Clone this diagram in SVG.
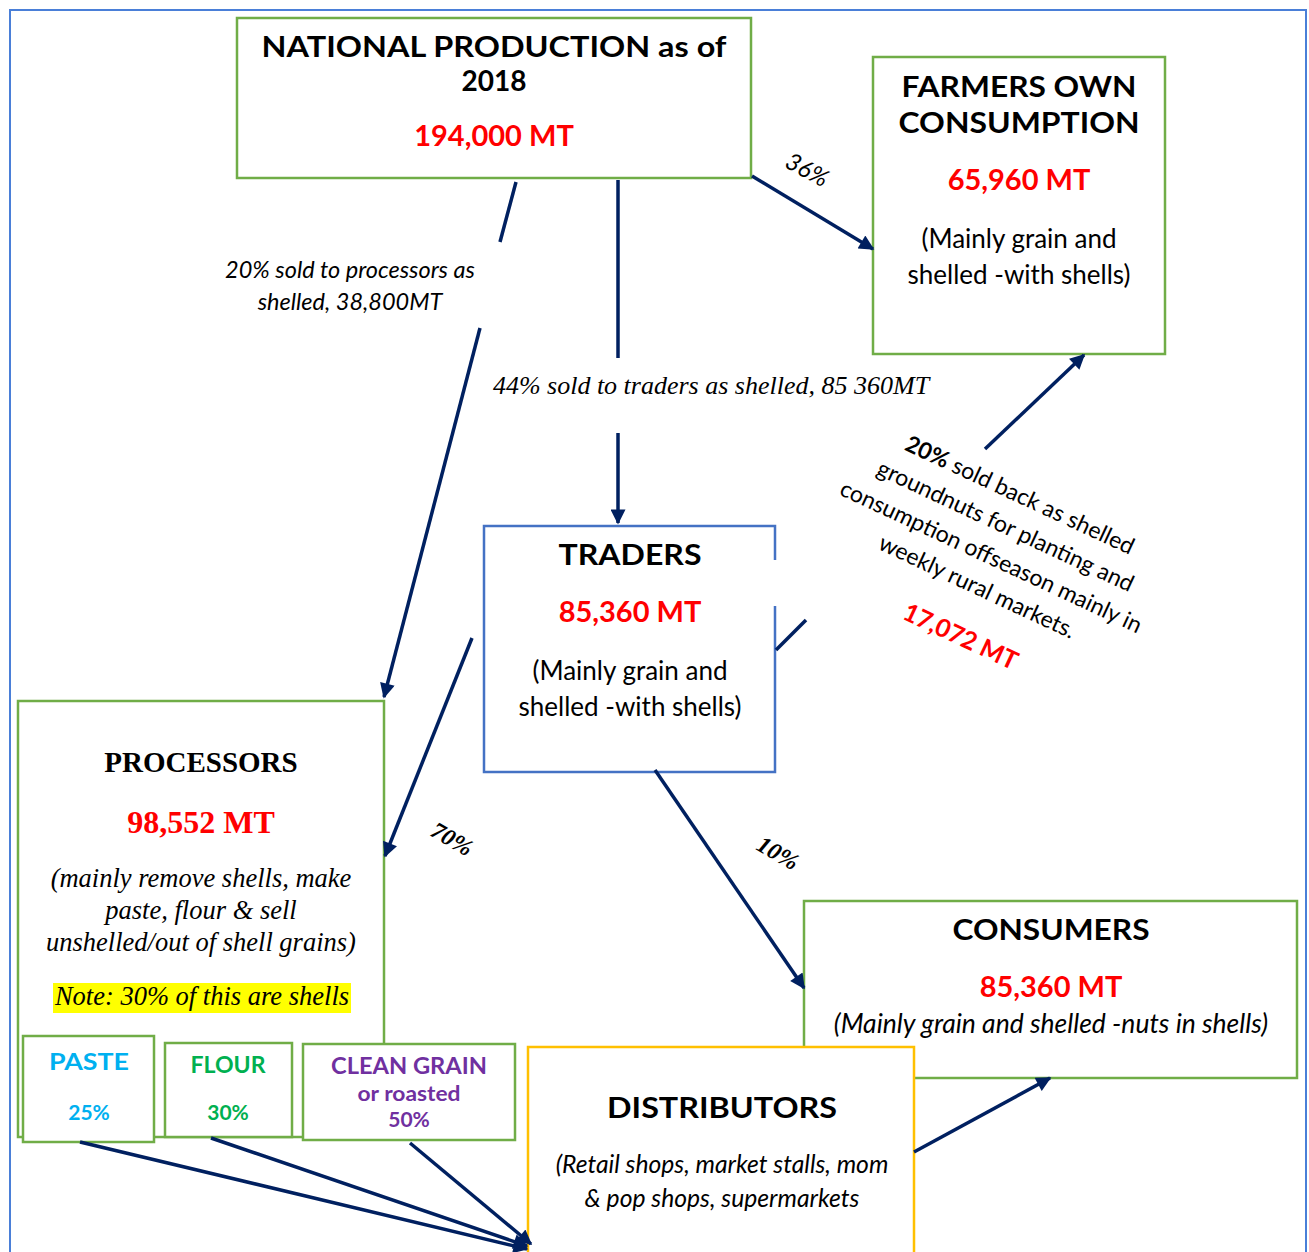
<svg xmlns="http://www.w3.org/2000/svg" width="1309" height="1252" viewBox="0 0 1309 1252">
<defs>
<marker id="arr" viewBox="0 0 10 10" refX="9" refY="5" markerWidth="18" markerHeight="15" markerUnits="userSpaceOnUse" orient="auto">
<path d="M0,0 L10,5 L0,10 z" fill="#002060"/>
</marker>
<style>
.box{fill:#fff;stroke:#70ad47;stroke-width:2.5}
.blue{fill:#fff;stroke:#4472c4;stroke-width:2.5}
.gold{fill:#fff;stroke:#ffc000;stroke-width:2.5}
.ln{stroke:#002060;stroke-width:3.5;fill:none}
.ar{stroke:#002060;stroke-width:3.5;fill:none;marker-end:url(#arr)}
.gs{font-family:Lato,"Open Sans",sans-serif;text-anchor:middle}
.gb{font-family:Lato,"Open Sans",sans-serif;font-weight:bold;text-anchor:middle}
.tr{font-family:"Liberation Serif",serif;text-anchor:middle}
.red{fill:#ff0000}
</style>
</defs>
<rect x="10" y="10" width="1296" height="1270" fill="none" stroke="#4a7fd8" stroke-width="2"/>

<g id="national-production">
<rect class="box" x="237" y="18" width="514" height="160"/>
<text class="gb" x="494" y="57" font-size="28" textLength="465" lengthAdjust="spacingAndGlyphs">NATIONAL PRODUCTION as of</text>
<text class="gb" x="494" y="91" font-size="28">2018</text>
<text class="gb red" x="494" y="146" font-size="29">194,000 MT</text>
</g>

<g id="farmers-own-consumption">
<rect class="box" x="873" y="57" width="292" height="297"/>
<text class="gb" x="1019" y="97" font-size="28" textLength="235" lengthAdjust="spacingAndGlyphs">FARMERS OWN</text>
<text class="gb" x="1019" y="133" font-size="28" textLength="241" lengthAdjust="spacingAndGlyphs">CONSUMPTION</text>
<text class="gb red" x="1019" y="190" font-size="29">65,960 MT</text>
<text class="gs" x="1019" y="248" font-size="26">(Mainly grain and</text>
<text class="gs" x="1019" y="284" font-size="26">shelled -with shells)</text>
</g>

<g id="traders">
<rect x="484" y="526" width="291" height="246" fill="#fff" stroke="none"/>
<path class="blue" d="M775,560 V526 H484 V772 H775 V606" fill="none"/>
<text class="gb" x="630" y="565" font-size="28" textLength="143" lengthAdjust="spacingAndGlyphs">TRADERS</text>
<text class="gb red" x="630" y="622" font-size="29">85,360 MT</text>
<text class="gs" x="630" y="680" font-size="26">(Mainly grain and</text>
<text class="gs" x="630" y="716" font-size="26">shelled -with shells)</text>
</g>

<g id="processors">
<rect class="box" x="18" y="701" width="366" height="436"/>
<text class="tr" x="201" y="772" font-size="29" font-weight="bold">PROCESSORS</text>
<text class="tr red" x="201" y="833" font-size="32" font-weight="bold">98,552 MT</text>
<text class="tr" x="201" y="887" font-size="26.5" font-style="italic">(mainly remove shells, make</text>
<text class="tr" x="201" y="919" font-size="26.5" font-style="italic">paste, flour &amp; sell</text>
<text class="tr" x="201" y="951" font-size="26.5" font-style="italic">unshelled/out of shell grains)</text>
<rect x="53" y="983" width="298" height="30" fill="#ffff00"/>
<text class="tr" x="202" y="1005" font-size="26.5" font-style="italic">Note: 30% of this are shells</text>
</g>

<g id="paste">
<rect class="box" x="23" y="1036" width="131" height="106"/>
<text class="gb" x="89" y="1070" font-size="22" fill="#00b0f0" textLength="80" lengthAdjust="spacingAndGlyphs">PASTE</text>
<text class="gb" x="89" y="1120" font-size="21" fill="#00b0f0">25%</text>
</g>

<g id="flour">
<rect class="box" x="165" y="1043" width="127" height="94"/>
<text class="gb" x="228" y="1073" font-size="22" fill="#00b050" textLength="75" lengthAdjust="spacingAndGlyphs">FLOUR</text>
<text class="gb" x="228" y="1120" font-size="21" fill="#00b050">30%</text>
</g>

<g id="clean-grain">
<rect class="box" x="303" y="1044" width="212" height="96"/>
<text class="gb" x="409" y="1074" font-size="22" fill="#7030a0" textLength="156" lengthAdjust="spacingAndGlyphs">CLEAN GRAIN</text>
<text class="gb" x="409" y="1101" font-size="21" fill="#7030a0" textLength="103" lengthAdjust="spacingAndGlyphs">or roasted</text>
<text class="gb" x="409" y="1127" font-size="21" fill="#7030a0">50%</text>
</g>

<g id="consumers">
<rect class="box" x="804" y="901" width="493" height="177"/>
<text class="gb" x="1051" y="940" font-size="28" textLength="197" lengthAdjust="spacingAndGlyphs">CONSUMERS</text>
<text class="gb red" x="1051" y="997" font-size="29">85,360 MT</text>
<text class="gs" x="1051" y="1033" font-size="26.5" font-style="italic">(Mainly grain and shelled -nuts in shells)</text>
</g>

<g id="distributors">
<rect class="gold" x="528" y="1047" width="386" height="230"/>
<text class="gb" x="722" y="1118" font-size="28" textLength="230" lengthAdjust="spacingAndGlyphs">DISTRIBUTORS</text>
<text class="gs" x="722" y="1173" font-size="24.7" font-style="italic">(Retail shops, market stalls, mom</text>
<text class="gs" x="722" y="1207" font-size="24.7" font-style="italic">&amp; pop shops, supermarkets</text>
</g>

<g id="connectors">
<line class="ar" x1="752" y1="176" x2="873" y2="249"/>
<line class="ln" x1="618" y1="180" x2="618" y2="358"/>
<line class="ar" x1="618" y1="433" x2="618" y2="523"/>
<line class="ln" x1="516" y1="182" x2="500" y2="242"/>
<line class="ar" x1="480" y1="328" x2="384" y2="697"/>
<line class="ar" x1="472" y1="638" x2="385" y2="856"/>
<line class="ar" x1="655" y1="770" x2="804" y2="988"/>
<line class="ln" x1="776" y1="650" x2="806" y2="620"/>
<line class="ar" x1="985" y1="449" x2="1084" y2="355"/>
<line class="ar" x1="80" y1="1142" x2="527" y2="1249"/>
<line class="ar" x1="211" y1="1138" x2="527" y2="1246"/>
<line class="ar" x1="410" y1="1143" x2="531" y2="1244"/>
<line class="ar" x1="914" y1="1152" x2="1050" y2="1078"/>
</g>

<g id="labels">
<text class="gs" font-size="24" font-style="italic" transform="translate(807,170) rotate(28)" y="8">36%</text>
<text class="gs" font-size="23.5" font-style="italic" x="350" y="278">20% sold to processors as</text>
<text class="gs" font-size="23.5" font-style="italic" x="350" y="310">shelled, 38,800MT</text>
<text class="tr" font-size="26" font-style="italic" x="711" y="394">44% sold to traders as shelled, 85 360MT</text>
<text class="tr" font-size="24" font-style="italic" font-weight="bold" transform="translate(452,839) rotate(30)" y="8">70%</text>
<text class="tr" font-size="24" font-style="italic" font-weight="bold" transform="translate(778,853) rotate(30)" y="8">10%</text>
<g transform="translate(1020,495) rotate(25)">
<text class="gs" font-size="23" y="8"><tspan font-weight="bold">20%</tspan> sold back as shelled</text>
<text class="gs" font-size="23" y="42">groundnuts for planting and</text>
<text class="gs" font-size="23" y="76">consumption offseason mainly in</text>
<text class="gs" font-size="23" y="109">weekly rural markets.</text>
<text class="gb red" font-size="25" x="6" y="162">17,072 MT</text>
</g>
</g>
</svg>
